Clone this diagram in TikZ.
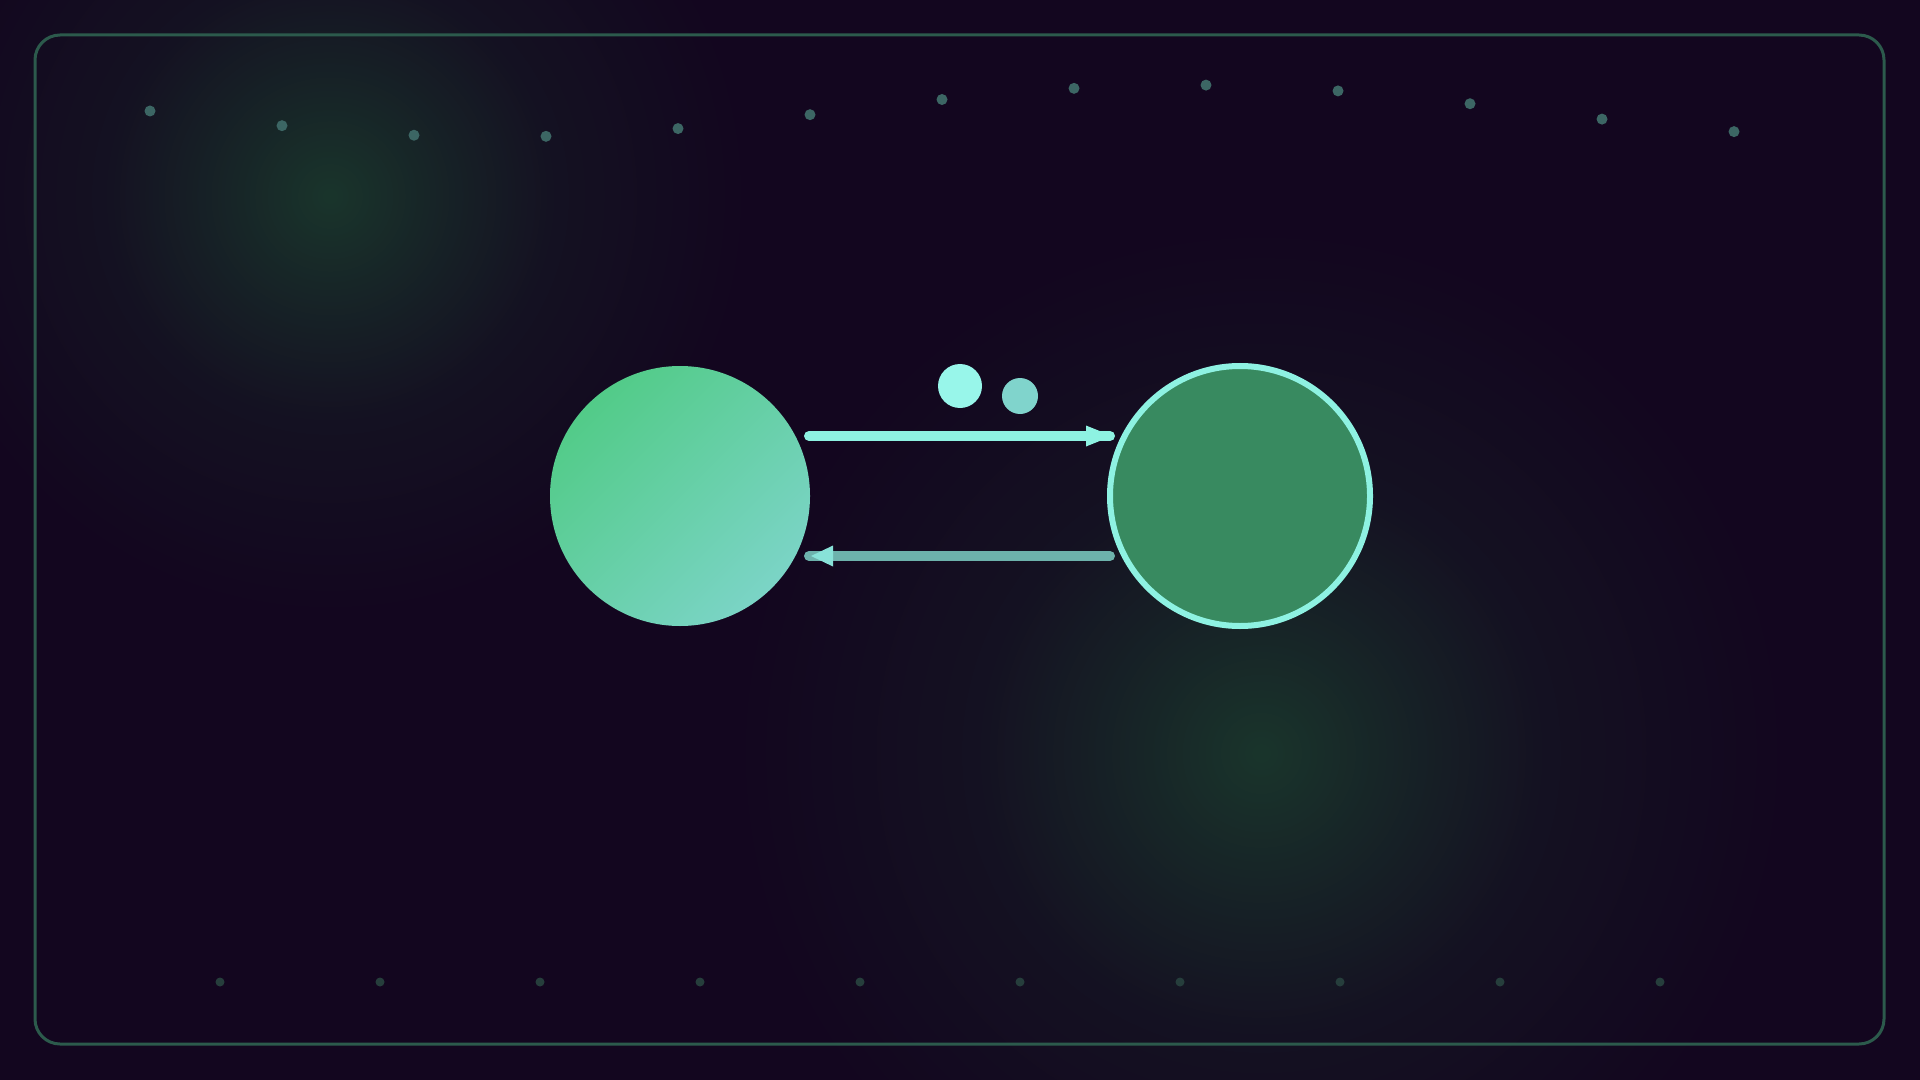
\documentclass[tikz,border=0pt]{standalone}
\usetikzlibrary{fadings,calc}
\definecolor{bgc}{HTML}{13061F}
\definecolor{framec}{HTML}{2C5A4C}
\definecolor{glowc}{HTML}{1C4530}
\definecolor{dottopc}{HTML}{3C6664}
\definecolor{dotbotc}{HTML}{263E3C}
\definecolor{gA}{HTML}{52CB88}
\definecolor{gB}{HTML}{7BD4C6}
\definecolor{darkfill}{HTML}{388A60}
\definecolor{aqua}{HTML}{8EF2E2}
\definecolor{aquadim}{HTML}{6DB2AC}
\definecolor{aquahead}{HTML}{88E2D8}
\definecolor{bubA}{HTML}{98F6EA}
\definecolor{bubB}{HTML}{80D4CC}
\pgfdeclareradialshading{glowsh}{\pgfpointorigin}{color(0bp)=(pgftransparent!0); color(5bp)=(pgftransparent!30); color(13bp)=(pgftransparent!75); color(25bp)=(pgftransparent!100); color(50bp)=(pgftransparent!100)}
\pgfdeclarefading{glowfade}{\pgfuseshading{glowsh}}
\tikzset{
  glow/.style={fill=glowc, fill opacity=0.75, path fading=glowfade},
  dottop/.style={fill=dottopc},
  dotbot/.style={fill=dotbotc},
  srcnode/.style={circle, inner sep=0pt, minimum size=130pt, left color=gA, right color=gB, shading angle=45},
  dstnode/.style={circle, inner sep=0pt, minimum size=130pt, fill=darkfill, draw=aqua, line width=3pt},
  flowfwd/.style={draw=aqua, line width=5pt, line cap=round},
  flowback/.style={draw=aquadim, line width=5pt, line cap=round},
}
\begin{document}
\begin{tikzpicture}[x=0.5pt, y=-0.5pt]
\useasboundingbox (0,0) rectangle (1920,1080);
\fill[bgc] (0,0) rectangle (1920,1080);
\begin{scope}
\clip (0,0) rectangle (1920,1080);
\fill[glow] (330,196) circle (430);
\fill[glow] (1261,753) circle (540);
\end{scope}
\draw[framec, line width=1.5pt, rounded corners=12.5pt] (35,35) rectangle (1884,1044);
% top wave dots
\foreach \i in {0,...,12}
  \fill[dottop] ({150+132*\i},{111+26*sin(0.6*\i r)}) circle (5.5);
% bottom dots
\foreach \i in {0,...,9}
  \fill[dotbot] ({220+160*\i},982) circle (4.5);
% nodes
\node[srcnode] (L) at (680,496) {};
\node[dstnode] (R) at (1240,496) {};
\node[circle, inner sep=0pt, minimum size=22pt, fill=bubA] (b1) at (960,386) {};
\node[circle, inner sep=0pt, minimum size=18pt, fill=bubB] (b2) at (1020,396) {};
% connectors
\coordinate (f1) at ($(L.center)+(129,-60)$);
\coordinate (f2) at ($(R.center)+(-130,-60)$);
\coordinate (k1) at ($(R.center)+(-130,60)$);
\coordinate (k2) at ($(L.center)+(129,60)$);
\draw[flowfwd] (f1) -- (f2);
\fill[aqua] ($(f2)+(2,0)$) -- ++(-26,-10.5) -- ++(0,21) -- cycle;
\draw[flowback] (k1) -- (k2);
\fill[aquahead] ($(k2)+(2,0)$) -- ++(22,-10.5) -- ++(0,21) -- cycle;
\end{tikzpicture}
\end{document}
